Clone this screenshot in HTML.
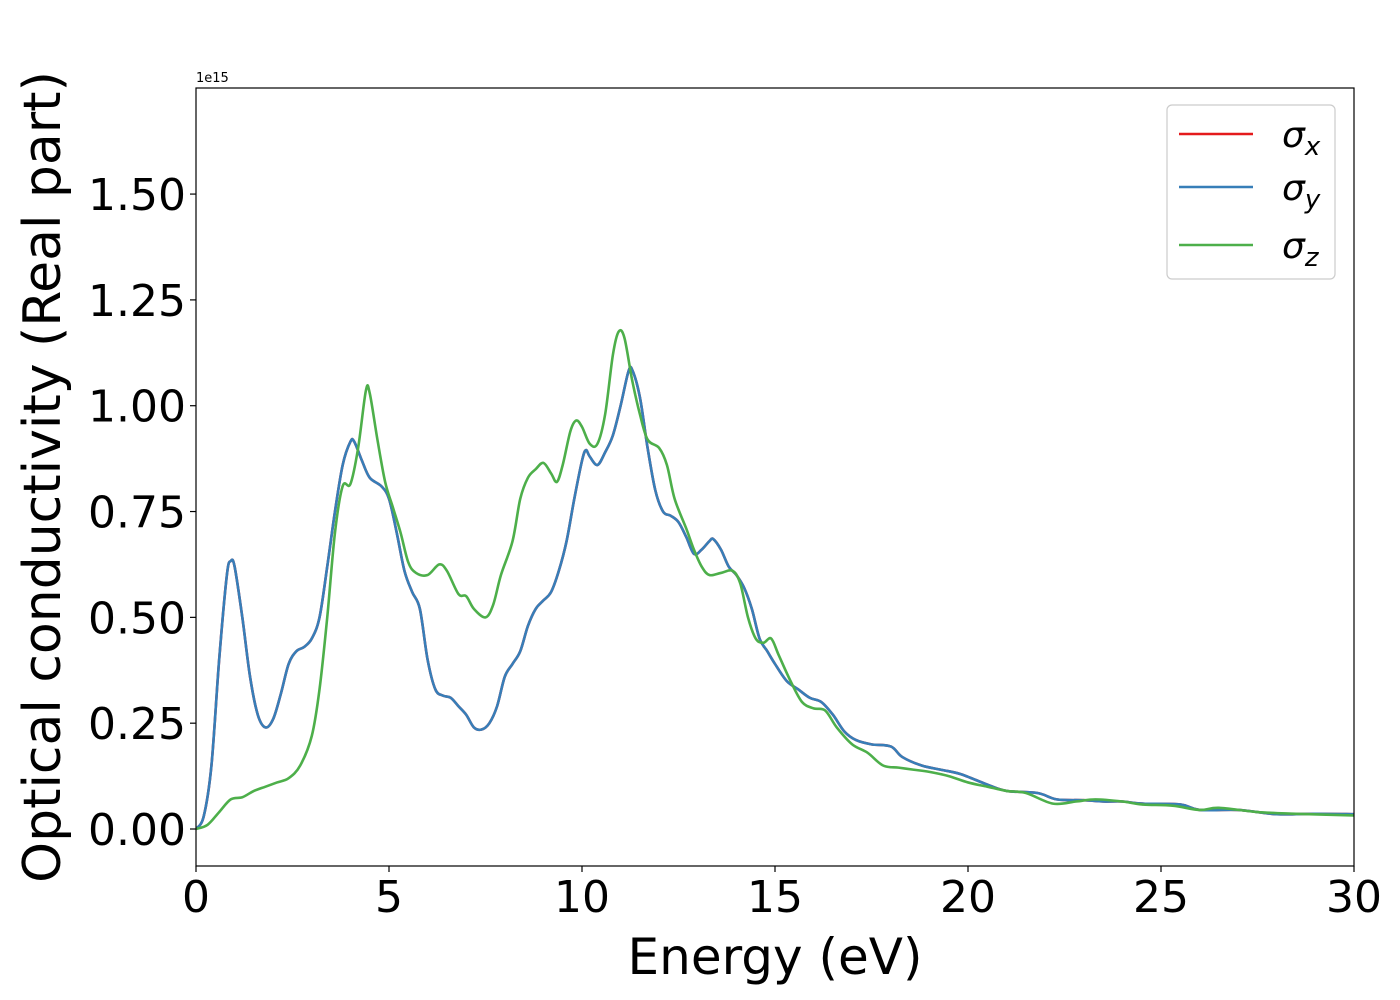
<!DOCTYPE html>
<html><head><meta charset="utf-8"><style>
html,body{margin:0;padding:0;background:#fff;}
svg{display:block;font-family:"DejaVu Sans","Liberation Sans",sans-serif;}
</style></head><body>
<svg id="chart" width="1400" height="1000">
<rect x="0" y="0" width="1400" height="1000" fill="#fff"/>
<g id="plot"></g>
<text x="196" y="82" font-size="13">1e15</text>
<text x="775" y="974" font-size="50" text-anchor="middle">Energy (eV)</text>
<text transform="translate(60,477) rotate(-90)" font-size="52" text-anchor="middle">Optical conductivity (Real part)</text>
<g>
<rect x="1167" y="105" width="168" height="174" rx="5" fill="#fff" stroke="#ccc" stroke-width="1.2"/>
<line x1="1179" y1="134" x2="1253" y2="134" stroke="#e41a1c" stroke-width="2.5"/>
<text x="1282" y="147" font-size="36" font-style="italic">σ<tspan font-size="26" dy="8">x</tspan></text>
<line x1="1179" y1="187" x2="1253" y2="187" stroke="#377eb8" stroke-width="2.5"/>
<text x="1282" y="200" font-size="36" font-style="italic">σ<tspan font-size="26" dy="8">y</tspan></text>
<line x1="1179" y1="245" x2="1253" y2="245" stroke="#4daf4a" stroke-width="2.5"/>
<text x="1282" y="258" font-size="36" font-style="italic">σ<tspan font-size="26" dy="8">z</tspan></text>
</g>
</svg>
<script>
const xTicks=[0,5,10,15,20,25,30];
const yTicks=[0,0.25,0.5,0.75,1.0,1.25,1.5];
const yTickLabels=["0.00","0.25","0.50","0.75","1.00","1.25","1.50"];
const energyXY=[0,0.2,0.4,0.6,0.8,0.9,1.0,1.2,1.4,1.6,1.8,2.0,2.2,2.4,2.6,2.8,3.0,3.2,3.4,3.6,3.8,4.0,4.1,4.3,4.5,4.8,5.0,5.2,5.4,5.6,5.8,6.0,6.2,6.4,6.6,6.8,7.0,7.2,7.4,7.6,7.8,8.0,8.2,8.4,8.6,8.8,9.0,9.2,9.4,9.6,9.8,10.0,10.1,10.2,10.4,10.6,10.8,11.0,11.2,11.3,11.5,11.7,11.9,12.1,12.3,12.5,12.7,12.9,13.1,13.3,13.4,13.6,13.8,14.0,14.2,14.4,14.6,14.8,15.0,15.3,15.6,15.9,16.2,16.5,16.8,17.1,17.5,18.0,18.3,18.8,19.3,19.8,20.5,21,21.8,22.3,23,23.5,24,24.5,25.5,26,27,28,29,30];
const sigmaX=[0,0.03,0.15,0.4,0.6,0.633,0.62,0.5,0.36,0.27,0.24,0.26,0.32,0.39,0.42,0.43,0.45,0.5,0.62,0.75,0.86,0.915,0.915,0.87,0.83,0.81,0.78,0.7,0.61,0.56,0.52,0.4,0.33,0.315,0.31,0.29,0.27,0.24,0.235,0.25,0.29,0.36,0.39,0.42,0.48,0.52,0.54,0.56,0.61,0.68,0.78,0.87,0.895,0.88,0.86,0.89,0.93,1.0,1.08,1.085,1.02,0.9,0.8,0.75,0.74,0.725,0.69,0.65,0.66,0.68,0.685,0.66,0.62,0.6,0.57,0.52,0.45,0.42,0.39,0.35,0.33,0.31,0.3,0.27,0.23,0.21,0.2,0.195,0.17,0.15,0.14,0.13,0.105,0.09,0.085,0.07,0.068,0.065,0.065,0.06,0.058,0.045,0.045,0.035,0.036,0.035];
const sigmaY=sigmaX.slice();
const energyZ=[0,0.3,0.6,0.9,1.2,1.5,1.8,2.1,2.4,2.7,3.0,3.2,3.4,3.6,3.8,4.0,4.2,4.4,4.5,4.7,4.9,5.1,5.3,5.5,5.7,6.0,6.3,6.5,6.8,7.0,7.2,7.5,7.7,7.9,8.2,8.4,8.6,8.8,9.0,9.2,9.35,9.5,9.7,9.85,10.0,10.2,10.4,10.6,10.8,10.95,11.1,11.3,11.5,11.7,12.0,12.2,12.4,12.7,12.9,13.1,13.3,13.6,13.9,14.1,14.3,14.5,14.7,14.9,15.1,15.4,15.7,16.0,16.3,16.6,17.0,17.4,17.8,18.2,18.6,19.0,19.5,20,20.5,21,21.5,22.2,22.8,23.3,24,24.5,25.3,26,26.5,27.5,28.5,30];
const sigmaZ=[0,0.01,0.04,0.07,0.075,0.09,0.1,0.11,0.12,0.15,0.22,0.33,0.5,0.7,0.81,0.815,0.9,1.035,1.03,0.92,0.82,0.76,0.7,0.63,0.605,0.6,0.625,0.61,0.555,0.55,0.52,0.5,0.53,0.6,0.68,0.78,0.83,0.85,0.865,0.84,0.82,0.86,0.94,0.965,0.95,0.91,0.91,0.98,1.12,1.175,1.16,1.06,0.98,0.92,0.9,0.86,0.78,0.71,0.66,0.62,0.6,0.605,0.61,0.58,0.5,0.45,0.44,0.45,0.41,0.35,0.3,0.285,0.28,0.24,0.2,0.18,0.15,0.145,0.14,0.135,0.125,0.11,0.1,0.09,0.085,0.06,0.065,0.07,0.065,0.058,0.055,0.045,0.05,0.04,0.036,0.032];

const L=196,R=1354,T=88,B=866;
const xMin=0,xMax=30,yMin=-0.0874,yMax=1.7506;
const sx=v=>L+(v-xMin)/(xMax-xMin)*(R-L);
const sy=v=>B-(v-yMin)/(yMax-yMin)*(B-T);
const NS="http://www.w3.org/2000/svg";
const plot=document.getElementById('plot');
function mk(tag,attrs){const e=document.createElementNS(NS,tag);for(const k in attrs)e.setAttribute(k,attrs[k]);return e;}
function smooth(xs,ys){
  const p=xs.map((x,i)=>[sx(x),sy(ys[i])]);
  let d="M"+p[0][0].toFixed(2)+","+p[0][1].toFixed(2);
  for(let i=0;i<p.length-1;i++){
    const p0=p[Math.max(i-1,0)],p1=p[i],p2=p[i+1],p3=p[Math.min(i+2,p.length-1)];
    const c1=[p1[0]+(p2[0]-p0[0])/6,p1[1]+(p2[1]-p0[1])/6];
    const c2=[p2[0]-(p3[0]-p1[0])/6,p2[1]-(p3[1]-p1[1])/6];
    d+=" C"+c1[0].toFixed(2)+","+c1[1].toFixed(2)+" "+c2[0].toFixed(2)+","+c2[1].toFixed(2)+" "+p2[0].toFixed(2)+","+p2[1].toFixed(2);
  }
  return d;
}
const clip=mk('clipPath',{id:'clipr'});clip.appendChild(mk('rect',{x:L,y:T,width:R-L,height:B-T}));plot.appendChild(clip);
const series=[[energyXY,sigmaX,'#e41a1c','series-sigma-x'],[energyXY,sigmaY,'#377eb8','series-sigma-y'],[energyZ,sigmaZ,'#4daf4a','series-sigma-z']];
series.forEach(s=>{
  const p=mk('path',{d:smooth(s[0],s[1]),fill:'none',stroke:s[2],'stroke-width':2.6,'clip-path':'url(#clipr)'});
  
  
  plot.appendChild(p);
});
const frame=mk('rect',{x:L,y:T,width:R-L,height:B-T,fill:'none',stroke:'#000','stroke-width':1.2});


plot.appendChild(frame);
xTicks.forEach(v=>{
  const x=sx(v);
  const t=mk('line',{x1:x,y1:B,x2:x,y2:B+6,stroke:'#000','stroke-width':1.2});
  
  
  plot.appendChild(t);
  const lb=mk('text',{x:x,y:B+46,'font-size':44,'text-anchor':'middle'});
  lb.textContent=String(v);
  
  
  plot.appendChild(lb);
});
yTicks.forEach((v,i)=>{
  const y=sy(v);
  const t=mk('line',{x1:L-6,y1:y,x2:L,y2:y,stroke:'#000','stroke-width':1.2});
  
  
  plot.appendChild(t);
  const lb=mk('text',{x:L-10,y:y+16,'font-size':44,'text-anchor':'end'});
  lb.textContent=yTickLabels[i];
  
  
  plot.appendChild(lb);
});
</script>
</body></html>
